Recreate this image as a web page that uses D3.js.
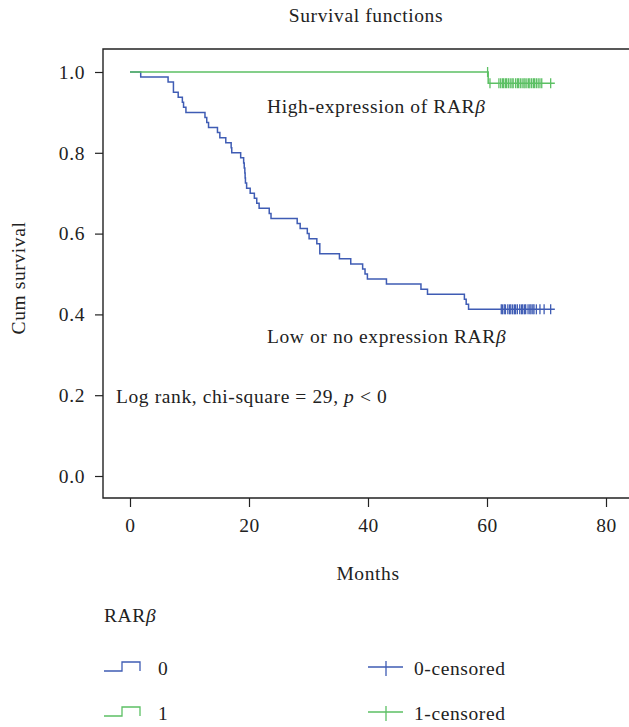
<!DOCTYPE html>
<html>
<head>
<meta charset="utf-8">
<title>Survival functions</title>
<script src="https://cdn.jsdelivr.net/npm/d3@7"></script>
<style>
  body { margin: 0; background: #fff; }
  text { font-family: "Liberation Serif", "DejaVu Serif", serif; fill: #222; font-size: 19.5px; letter-spacing: 0.6px; }
</style>
</head>
<body>
<script>
// Kaplan-Meier steps (months, cumulative survival after the event)
var lowTimes = [1.8, 6.4, 7.3, 8.1, 8.8, 9.0, 9.4, 12.6, 12.9, 13.2, 14.7, 15.1, 16.1, 17.0, 17.1,
                18.6, 19.1, 19.2, 19.3, 19.35, 19.4, 19.6, 20.2, 20.9, 21.3, 21.7, 23.4, 23.7,
                28.1, 28.6, 29.8, 30.1, 31.4, 31.9, 35.2, 37.1, 39.1, 39.5, 39.9, 43.1, 48.9,
                50.0, 56.2, 56.5, 56.9];
var lowSurv  = [0.9875, 0.975, 0.95, 0.9375, 0.925, 0.9125, 0.9, 0.8875, 0.875, 0.8625, 0.85,
                0.8375, 0.825, 0.8125, 0.8, 0.7875, 0.775, 0.7625, 0.75, 0.7375, 0.725, 0.7125,
                0.7, 0.6875, 0.675, 0.6625, 0.65, 0.6375, 0.625, 0.6125, 0.6, 0.5875, 0.575,
                0.55, 0.5375, 0.525, 0.5125, 0.5, 0.4875, 0.475, 0.4625, 0.45, 0.4375, 0.425, 0.4125];
var lowCensored = [62.4, 62.6, 62.9, 63.1, 63.5, 63.8, 64.0, 64.3, 64.6, 64.8, 65.1, 65.5, 65.8,
                   66.0, 66.3, 66.5, 66.9, 67.2, 67.4, 67.7, 67.9, 68.3, 68.9, 69.6, 70.7];
var lowEnd = 71.4;

var highTimes = [60.2];
var highSurv  = [0.9722];
var highCensored = [60.1, 60.5, 62.0, 62.3, 62.6, 62.8, 63.1, 63.3, 63.6, 63.9, 64.2, 64.4,
                    64.8, 65.1, 65.3, 65.6, 65.9, 66.2, 66.4, 66.7, 67.0, 67.2, 67.5, 67.8,
                    68.0, 68.3, 68.6, 68.9, 69.2, 70.7];
var highEnd = 71.4;

var xTicks = [0, 20, 40, 60, 80];
var yTicks = [0, 0.2, 0.4, 0.6, 0.8, 1.0];

var blue = '#3f5cb4', green = '#5cc064';

var svg = d3.select('body').append('svg').attr('width', 629).attr('height', 727);

var x = d3.scaleLinear().domain([0, 80]).range([130, 606]);
var y = d3.scaleLinear().domain([0, 1]).range([476, 72]);

var frameLeft = 103, frameTop = 49, frameBottom = 498;

svg.append('text').attr('x', 366).attr('y', 22).attr('text-anchor', 'middle').text('Survival functions');

// frame (no right side visible)
svg.append('path')
    .attr('d', 'M629,' + frameTop + 'H' + frameLeft + 'V' + frameBottom + 'H629')
    .attr('fill', 'none').attr('stroke', '#222').attr('stroke-width', 1.4);

// y axis
var yAxis = svg.append('g').attr('transform', 'translate(' + frameLeft + ',0)')
    .call(d3.axisLeft(y).tickValues(yTicks).tickFormat(d3.format('.1f')).tickSize(8).tickPadding(10));
yAxis.select('.domain').remove();
yAxis.selectAll('line').attr('stroke', '#222').attr('stroke-width', 1.2);
yAxis.selectAll('text').attr('font-family', null).attr('font-size', null).attr('fill', '#222');

// x axis
var xAxis = svg.append('g').attr('transform', 'translate(0,' + frameBottom + ')')
    .call(d3.axisBottom(x).tickValues(xTicks).tickSize(9).tickPadding(11));
xAxis.select('.domain').remove();
xAxis.selectAll('line').attr('stroke', '#222').attr('stroke-width', 1.2);
xAxis.selectAll('text').attr('font-family', null).attr('font-size', null).attr('fill', '#222');

svg.append('text').attr('transform', 'translate(25,278) rotate(-90)').attr('text-anchor', 'middle')
    .text('Cum survival');
svg.append('text').attr('x', 368).attr('y', 580).attr('text-anchor', 'middle').text('Months');

var stepLine = d3.line().x(function (d) { return x(d[0]); }).y(function (d) { return y(d[1]); })
    .curve(d3.curveStepAfter);

function survAt(times, surv, t) {
    var s = 1;
    for (var i = 0; i < times.length; i++) if (times[i] <= t) s = surv[i];
    return s;
}

function drawGroup(times, surv, censored, end, color) {
    var pts = [[0, 1]];
    times.forEach(function (t, i) { pts.push([t, surv[i]]); });
    pts.push([end, surv[surv.length - 1]]);
    svg.append('path').attr('d', stepLine(pts)).attr('fill', 'none')
        .attr('stroke', color).attr('stroke-width', 1.5);
    svg.append('g').selectAll('line').data(censored).enter().append('line')
        .attr('x1', function (d) { return x(d); }).attr('x2', function (d) { return x(d); })
        .attr('y1', function (d) { return y(survAt(times, surv, d)) - 5; })
        .attr('y2', function (d) { return y(survAt(times, surv, d)) + 5; })
        .attr('stroke', color).attr('stroke-width', 1.3);
}

drawGroup(lowTimes, lowSurv, lowCensored, lowEnd, blue);
drawGroup(highTimes, highSurv, highCensored, highEnd, green);

// annotations
var t1 = svg.append('text').attr('x', 267).attr('y', 113);
t1.append('tspan').text('High-expression of RAR');
t1.append('tspan').style('font-style', 'italic').text('β');

var t2 = svg.append('text').attr('x', 267).attr('y', 343);
t2.append('tspan').text('Low or no expression RAR');
t2.append('tspan').style('font-style', 'italic').text('β');

var t3 = svg.append('text').attr('x', 116).attr('y', 403);
t3.append('tspan').text('Log rank, chi-square = 29, ');
t3.append('tspan').style('font-style', 'italic').text('p');
t3.append('tspan').text(' < 0');

// legend
var lt = svg.append('text').attr('x', 104).attr('y', 622);
lt.append('tspan').text('RAR');
lt.append('tspan').style('font-style', 'italic').text('β');

var groups = [{ label: '0', color: blue, y: 668 }, { label: '1', color: green, y: 713 }];
var leg = svg.append('g').selectAll('g').data(groups).enter().append('g')
    .attr('transform', function (d) { return 'translate(0,' + d.y + ')'; });
leg.append('path').attr('d', 'M104,3H122V-6H140V3').attr('fill', 'none')
    .attr('stroke', function (d) { return d.color; }).attr('stroke-width', 1.3);
leg.append('text').attr('x', 158).attr('y', 7).text(function (d) { return d.label; });
leg.append('path').attr('d', 'M368,-1H403M386,-7V8').attr('fill', 'none')
    .attr('stroke', function (d) { return d.color; }).attr('stroke-width', 1.3);
leg.append('text').attr('x', 414).attr('y', 7).text(function (d) { return d.label + '-censored'; });
</script>
</body>
</html>
